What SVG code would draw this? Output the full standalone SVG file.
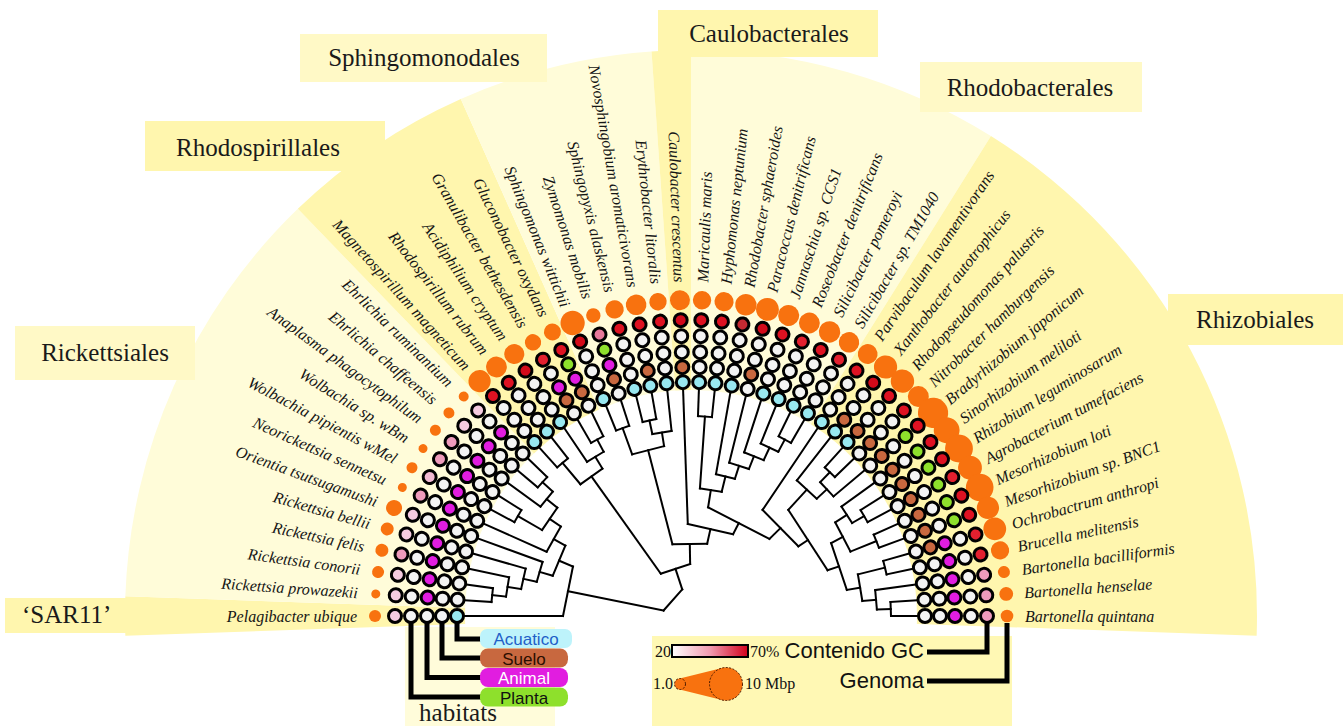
<svg xmlns="http://www.w3.org/2000/svg" width="1344" height="726" viewBox="0 0 1344 726">
<style>
.lf{font-family:"Liberation Serif",serif;font-style:italic;font-size:16px;fill:#151515}
.cl{font-family:"Liberation Serif",serif;font-size:25px;fill:#1a1a1a}
.ls{font-family:"Liberation Sans",Arial,sans-serif;font-size:17px;text-anchor:middle}
.lg2{font-family:"Liberation Sans",Arial,sans-serif;font-size:22px;fill:#111;text-anchor:end}
.sm{font-family:"Liberation Serif",serif;font-size:16px;fill:#111}
.t line{stroke:#000;stroke-width:2;stroke-linecap:square}
.c{stroke:#000;stroke-width:3}
.gn{fill:#F8720F}
.W{fill:#F3F3F3}.P{fill:#8EE02C}.A{fill:#E11DE0}.S{fill:#C8683F}.Q{fill:#98E8F0}
.p1{fill:#F5CBE0}.p2{fill:#F1B9D3}.p3{fill:#EE9BBC}.p4{fill:#E7789A}
.r1{fill:#E3202F}.r2{fill:#DE1222}.r3{fill:#D20A1A}.r4{fill:#C42A32}
.dk{fill:#FFF6AE}.lt{fill:#FFFCD9}.lb{fill:#FFF9C6}
.lk{fill:none;stroke:#000;stroke-width:5}
</style>
<defs>
<linearGradient id="gcg" x1="0" y1="0" x2="1" y2="0">
<stop offset="0" stop-color="#FFFFFF"/><stop offset="0.5" stop-color="#F09AB0"/><stop offset="1" stop-color="#D2001A"/>
</linearGradient>
</defs>
<rect width="1344" height="726" fill="#FFFFFF"/>
<g id="sectors">
<path class="dk" d="M125.35,635.75A566,566 0 0 1 125.35,596.25L465.14,608.11A226,226 0 0 0 465.14,623.89Z"/>
<path class="lt" d="M125.35,596.25A566,566 0 0 1 297.82,208.85L534.01,453.43A226,226 0 0 0 465.14,608.11Z"/>
<path class="dk" d="M297.82,208.85A566,566 0 0 1 460.79,98.93L599.08,409.54A226,226 0 0 0 534.01,453.43Z"/>
<path class="lt" d="M460.79,98.93A566,566 0 0 1 651.52,51.38L675.24,390.55A226,226 0 0 0 599.08,409.54Z"/>
<path class="dk" d="M651.52,51.38A566,566 0 0 1 691,50L691,390A226,226 0 0 0 675.24,390.55Z"/>
<path class="lt" d="M691,50A566,566 0 0 1 990.93,136L810.76,424.34A226,226 0 0 0 691,390Z"/>
<path class="dk" d="M990.93,136A566,566 0 0 1 1256.65,635.75L916.86,623.89A226,226 0 0 0 810.76,424.34Z"/>
</g>
<g id="clade-labels">
<g id="clade-sar11"><rect class="dk" x="5" y="598" width="150" height="35"/><text class="cl" x="22" y="623" font-size="24">‘SAR11’</text></g>
<g id="clade-rickettsiales"><rect class="lb" x="15" y="326" width="180" height="54"/><text class="cl" x="105" y="361" text-anchor="middle">Rickettsiales</text></g>
<g id="clade-rhodospirillales"><rect class="dk" x="145" y="121" width="240" height="50"/><text class="cl" x="258" y="156" text-anchor="middle">Rhodospirillales</text></g>
<g id="clade-sphingomonadales"><rect class="lb" x="300" y="34" width="247" height="48"/><text class="cl" x="424" y="66" text-anchor="middle">Sphingomonodales</text></g>
<g id="clade-caulobacterales"><rect class="dk" x="658" y="10" width="220" height="47"/><text class="cl" x="769" y="42" text-anchor="middle">Caulobacterales</text></g>
<g id="clade-rhodobacterales"><rect class="lb" x="920" y="62" width="222" height="50"/><text class="cl" x="1030" y="96" text-anchor="middle">Rhodobacterales</text></g>
<g id="clade-rhizobiales"><rect class="dk" x="1168" y="294" width="175" height="51"/><text class="cl" x="1255" y="328" text-anchor="middle">Rhizobiales</text></g>
</g>
<rect id="legend-habitats-bg" x="405" y="627" width="150" height="99" fill="#FFFCDA"/>
<rect id="legend-bg" x="652" y="636" width="360" height="90" fill="#FFF8B4"/>
<g id="connectors" class="t">
<line x1="563" y1="616" x2="465" y2="616"/>
<line x1="491" y1="616" x2="465" y2="616" transform="rotate(4 691 616)"/>
<line x1="491" y1="616" x2="465" y2="616" transform="rotate(8 691 616)"/>
<line x1="505" y1="616" x2="465" y2="616" transform="rotate(12 691 616)"/>
<line x1="519" y1="616" x2="465" y2="616" transform="rotate(16 691 616)"/>
<line x1="533" y1="616" x2="465" y2="616" transform="rotate(20 691 616)"/>
<line x1="533" y1="616" x2="465" y2="616" transform="rotate(24 691 616)"/>
<line x1="491" y1="616" x2="465" y2="616" transform="rotate(28 691 616)"/>
<line x1="491" y1="616" x2="465" y2="616" transform="rotate(32 691 616)"/>
<line x1="505" y1="616" x2="465" y2="616" transform="rotate(36 691 616)"/>
<line x1="491" y1="616" x2="465" y2="616" transform="rotate(40 691 616)"/>
<line x1="491" y1="616" x2="465" y2="616" transform="rotate(44 691 616)"/>
<line x1="491" y1="616" x2="465" y2="616" transform="rotate(48 691 616)"/>
<line x1="491" y1="616" x2="465" y2="616" transform="rotate(52 691 616)"/>
<line x1="505" y1="616" x2="465" y2="616" transform="rotate(56 691 616)"/>
<line x1="491" y1="616" x2="465" y2="616" transform="rotate(60 691 616)"/>
<line x1="491" y1="616" x2="465" y2="616" transform="rotate(64 691 616)"/>
<line x1="491" y1="616" x2="465" y2="616" transform="rotate(68 691 616)"/>
<line x1="491" y1="616" x2="465" y2="616" transform="rotate(72 691 616)"/>
<line x1="491" y1="616" x2="465" y2="616" transform="rotate(76 691 616)"/>
<line x1="491" y1="616" x2="465" y2="616" transform="rotate(80 691 616)"/>
<line x1="505" y1="616" x2="465" y2="616" transform="rotate(84 691 616)"/>
<line x1="599" y1="616" x2="465" y2="616" transform="rotate(88 691 616)"/>
<line x1="491" y1="616" x2="465" y2="616" transform="rotate(92 691 616)"/>
<line x1="491" y1="616" x2="465" y2="616" transform="rotate(96 691 616)"/>
<line x1="547" y1="616" x2="465" y2="616" transform="rotate(100 691 616)"/>
<line x1="533" y1="616" x2="465" y2="616" transform="rotate(104 691 616)"/>
<line x1="519" y1="616" x2="465" y2="616" transform="rotate(108 691 616)"/>
<line x1="505" y1="616" x2="465" y2="616" transform="rotate(112 691 616)"/>
<line x1="491" y1="616" x2="465" y2="616" transform="rotate(116 691 616)"/>
<line x1="491" y1="616" x2="465" y2="616" transform="rotate(120 691 616)"/>
<line x1="563" y1="616" x2="465" y2="616" transform="rotate(124 691 616)"/>
<line x1="519" y1="616" x2="465" y2="616" transform="rotate(128 691 616)"/>
<line x1="491" y1="616" x2="465" y2="616" transform="rotate(132 691 616)"/>
<line x1="491" y1="616" x2="465" y2="616" transform="rotate(136 691 616)"/>
<line x1="505" y1="616" x2="465" y2="616" transform="rotate(140 691 616)"/>
<line x1="505" y1="616" x2="465" y2="616" transform="rotate(144 691 616)"/>
<line x1="491" y1="616" x2="465" y2="616" transform="rotate(148 691 616)"/>
<line x1="491" y1="616" x2="465" y2="616" transform="rotate(152 691 616)"/>
<line x1="491" y1="616" x2="465" y2="616" transform="rotate(156 691 616)"/>
<line x1="491" y1="616" x2="465" y2="616" transform="rotate(160 691 616)"/>
<line x1="491" y1="616" x2="465" y2="616" transform="rotate(164 691 616)"/>
<line x1="491" y1="616" x2="465" y2="616" transform="rotate(168 691 616)"/>
<line x1="505" y1="616" x2="465" y2="616" transform="rotate(172 691 616)"/>
<line x1="491" y1="616" x2="465" y2="616" transform="rotate(176 691 616)"/>
<line x1="491" y1="616" x2="465" y2="616" transform="rotate(180 691 616)"/>
<line x1="505" y1="616" x2="491.12" y2="616" transform="rotate(6 691 616)"/>
<line x1="519" y1="616" x2="505.25" y2="616" transform="rotate(9 691 616)"/>
<line x1="533" y1="616" x2="519.32" y2="616" transform="rotate(12.5 691 616)"/>
<line x1="547" y1="616" x2="533.34" y2="616" transform="rotate(16.25 691 616)"/>
<line x1="519" y1="616" x2="491.12" y2="616" transform="rotate(30 691 616)"/>
<line x1="505" y1="616" x2="491.12" y2="616" transform="rotate(42 691 616)"/>
<line x1="519" y1="616" x2="505.25" y2="616" transform="rotate(39 691 616)"/>
<line x1="533" y1="616" x2="519.53" y2="616" transform="rotate(34.5 691 616)"/>
<line x1="547" y1="616" x2="533.66" y2="616" transform="rotate(29.25 691 616)"/>
<line x1="563" y1="616" x2="547.93" y2="616" transform="rotate(22.75 691 616)"/>
<line x1="663" y1="616" x2="565.51" y2="616" transform="rotate(11.375 691 616)"/>
<line x1="519" y1="616" x2="491.12" y2="616" transform="rotate(50 691 616)"/>
<line x1="505" y1="616" x2="491.12" y2="616" transform="rotate(62 691 616)"/>
<line x1="519" y1="616" x2="505.25" y2="616" transform="rotate(59 691 616)"/>
<line x1="639" y1="616" x2="519.53" y2="616" transform="rotate(54.5 691 616)"/>
<line x1="519" y1="616" x2="491.12" y2="616" transform="rotate(70 691 616)"/>
<line x1="505" y1="616" x2="491.12" y2="616" transform="rotate(78 691 616)"/>
<line x1="519" y1="616" x2="505.25" y2="616" transform="rotate(81 691 616)"/>
<line x1="617" y1="616" x2="519.79" y2="616" transform="rotate(75.5 691 616)"/>
<line x1="563" y1="616" x2="491.12" y2="616" transform="rotate(94 691 616)"/>
<line x1="505" y1="616" x2="491.12" y2="616" transform="rotate(118 691 616)"/>
<line x1="519" y1="616" x2="505.25" y2="616" transform="rotate(115 691 616)"/>
<line x1="533" y1="616" x2="519.32" y2="616" transform="rotate(111.5 691 616)"/>
<line x1="547" y1="616" x2="533.34" y2="616" transform="rotate(107.75 691 616)"/>
<line x1="563" y1="616" x2="547.33" y2="616" transform="rotate(103.875 691 616)"/>
<line x1="581" y1="616" x2="563.48" y2="616" transform="rotate(98.94 691 616)"/>
<line x1="505" y1="616" x2="491.12" y2="616" transform="rotate(178 691 616)"/>
<line x1="519" y1="616" x2="505.25" y2="616" transform="rotate(175 691 616)"/>
<line x1="519" y1="616" x2="491.12" y2="616" transform="rotate(166 691 616)"/>
<line x1="533" y1="616" x2="519.53" y2="616" transform="rotate(170.5 691 616)"/>
<line x1="505" y1="616" x2="491.12" y2="616" transform="rotate(150 691 616)"/>
<line x1="519" y1="616" x2="505.25" y2="616" transform="rotate(147 691 616)"/>
<line x1="519" y1="616" x2="491.12" y2="616" transform="rotate(158 691 616)"/>
<line x1="533" y1="616" x2="519.79" y2="616" transform="rotate(152.5 691 616)"/>
<line x1="547" y1="616" x2="534.95" y2="616" transform="rotate(161.5 691 616)"/>
<line x1="505" y1="616" x2="491.12" y2="616" transform="rotate(134 691 616)"/>
<line x1="519" y1="616" x2="505.25" y2="616" transform="rotate(137 691 616)"/>
<line x1="547" y1="616" x2="519.53" y2="616" transform="rotate(132.5 691 616)"/>
<line x1="563" y1="616" x2="551.59" y2="616" transform="rotate(147 691 616)"/>
<line x1="581" y1="616" x2="565.57" y2="616" transform="rotate(135.5 691 616)"/>
<line x1="599" y1="616" x2="586.55" y2="616" transform="rotate(117.22 691 616)"/>
<line x1="617" y1="616" x2="601.97" y2="616" transform="rotate(102.61 691 616)"/>
<line x1="639" y1="616" x2="619.06" y2="616" transform="rotate(89.05 691 616)"/>
<line x1="663" y1="616" x2="641.35" y2="616" transform="rotate(71.78 691 616)"/>
<line x1="491.12" y1="609.02" x2="491.12" y2="622.98" transform="rotate(6 691 616)"/>
<line x1="505.25" y1="606.26" x2="505.25" y2="625.74" transform="rotate(9 691 616)"/>
<line x1="519.32" y1="605.5" x2="519.32" y2="626.5" transform="rotate(12.5 691 616)"/>
<line x1="533.34" y1="605.67" x2="533.34" y2="626.33" transform="rotate(16.25 691 616)"/>
<line x1="491.12" y1="609.02" x2="491.12" y2="622.98" transform="rotate(30 691 616)"/>
<line x1="491.12" y1="609.02" x2="491.12" y2="622.98" transform="rotate(42 691 616)"/>
<line x1="505.25" y1="606.26" x2="505.25" y2="625.74" transform="rotate(39 691 616)"/>
<line x1="519.53" y1="602.51" x2="519.53" y2="629.49" transform="rotate(34.5 691 616)"/>
<line x1="533.66" y1="601.54" x2="533.66" y2="630.46" transform="rotate(29.25 691 616)"/>
<line x1="547.93" y1="599.7" x2="547.93" y2="632.3" transform="rotate(22.75 691 616)"/>
<line x1="565.51" y1="590.75" x2="565.51" y2="641.25" transform="rotate(11.375 691 616)"/>
<line x1="491.12" y1="609.02" x2="491.12" y2="622.98" transform="rotate(50 691 616)"/>
<line x1="491.12" y1="609.02" x2="491.12" y2="622.98" transform="rotate(62 691 616)"/>
<line x1="505.25" y1="606.26" x2="505.25" y2="625.74" transform="rotate(59 691 616)"/>
<line x1="519.53" y1="602.51" x2="519.53" y2="629.49" transform="rotate(54.5 691 616)"/>
<line x1="491.12" y1="609.02" x2="491.12" y2="622.98" transform="rotate(70 691 616)"/>
<line x1="491.12" y1="609.02" x2="491.12" y2="622.98" transform="rotate(78 691 616)"/>
<line x1="505.25" y1="606.26" x2="505.25" y2="625.74" transform="rotate(81 691 616)"/>
<line x1="519.79" y1="599.51" x2="519.79" y2="632.49" transform="rotate(75.5 691 616)"/>
<line x1="491.12" y1="609.02" x2="491.12" y2="622.98" transform="rotate(94 691 616)"/>
<line x1="491.12" y1="609.02" x2="491.12" y2="622.98" transform="rotate(118 691 616)"/>
<line x1="505.25" y1="606.26" x2="505.25" y2="625.74" transform="rotate(115 691 616)"/>
<line x1="519.32" y1="605.5" x2="519.32" y2="626.5" transform="rotate(111.5 691 616)"/>
<line x1="533.34" y1="605.67" x2="533.34" y2="626.33" transform="rotate(107.75 691 616)"/>
<line x1="547.33" y1="606.27" x2="547.33" y2="625.73" transform="rotate(103.875 691 616)"/>
<line x1="563.48" y1="604.98" x2="563.48" y2="627.02" transform="rotate(98.94 691 616)"/>
<line x1="491.12" y1="609.02" x2="491.12" y2="622.98" transform="rotate(178 691 616)"/>
<line x1="505.25" y1="606.26" x2="505.25" y2="625.74" transform="rotate(175 691 616)"/>
<line x1="491.12" y1="609.02" x2="491.12" y2="622.98" transform="rotate(166 691 616)"/>
<line x1="519.53" y1="602.51" x2="519.53" y2="629.49" transform="rotate(170.5 691 616)"/>
<line x1="491.12" y1="609.02" x2="491.12" y2="622.98" transform="rotate(150 691 616)"/>
<line x1="505.25" y1="606.26" x2="505.25" y2="625.74" transform="rotate(147 691 616)"/>
<line x1="491.12" y1="609.02" x2="491.12" y2="622.98" transform="rotate(158 691 616)"/>
<line x1="519.79" y1="599.51" x2="519.79" y2="632.49" transform="rotate(152.5 691 616)"/>
<line x1="534.95" y1="591.28" x2="534.95" y2="640.72" transform="rotate(161.5 691 616)"/>
<line x1="491.12" y1="609.02" x2="491.12" y2="622.98" transform="rotate(134 691 616)"/>
<line x1="505.25" y1="606.26" x2="505.25" y2="625.74" transform="rotate(137 691 616)"/>
<line x1="519.53" y1="602.51" x2="519.53" y2="629.49" transform="rotate(132.5 691 616)"/>
<line x1="551.59" y1="579.95" x2="551.59" y2="652.05" transform="rotate(147 691 616)"/>
<line x1="565.57" y1="590.48" x2="565.57" y2="641.52" transform="rotate(135.5 691 616)"/>
<line x1="586.55" y1="581.5" x2="586.55" y2="650.5" transform="rotate(117.22 691 616)"/>
<line x1="601.97" y1="592.8" x2="601.97" y2="639.2" transform="rotate(102.61 691 616)"/>
<line x1="619.06" y1="598.66" x2="619.06" y2="633.34" transform="rotate(89.05 691 616)"/>
<line x1="641.35" y1="600.56" x2="641.35" y2="631.44" transform="rotate(71.78 691 616)"/>
<line x1="666.8" y1="601.92" x2="666.8" y2="630.08" transform="rotate(41.58 691 616)"/>
</g>
<g id="leaves">
<g id="leaf-01" transform="rotate(0 691 616)"><circle class="gn" cx="375" cy="616" r="6"/><circle class="c p1" cx="395" cy="616" r="6.5"/><circle class="c W" cx="411" cy="616" r="6.5"/><circle class="c W" cx="427" cy="616" r="6.5"/><circle class="c W" cx="442" cy="616" r="6.5"/><circle class="c Q" cx="457" cy="616" r="6.5"/><text class="lf" x="357" y="621.5" text-anchor="end">Pelagibacter ubique</text></g>
<g id="leaf-02" transform="rotate(4 691 616)"><circle class="gn" cx="375" cy="616" r="4.5"/><circle class="c p1" cx="395" cy="616" r="6.5"/><circle class="c W" cx="411" cy="616" r="6.5"/><circle class="c A" cx="427" cy="616" r="6.5"/><circle class="c W" cx="442" cy="616" r="6.5"/><circle class="c W" cx="457" cy="616" r="6.5"/><text class="lf" x="357" y="621.5" text-anchor="end">Rickettsia prowazekii</text></g>
<g id="leaf-03" transform="rotate(8 691 616)"><circle class="gn" cx="375" cy="616" r="6"/><circle class="c p1" cx="395" cy="616" r="6.5"/><circle class="c W" cx="411" cy="616" r="6.5"/><circle class="c A" cx="427" cy="616" r="6.5"/><circle class="c W" cx="442" cy="616" r="6.5"/><circle class="c W" cx="457" cy="616" r="6.5"/><text class="lf" x="357" y="621.5" text-anchor="end">Rickettsia conorii</text></g>
<g id="leaf-04" transform="rotate(12 691 616)"><circle class="gn" cx="375" cy="616" r="6.5"/><circle class="c p3" cx="395" cy="616" r="6.5"/><circle class="c W" cx="411" cy="616" r="6.5"/><circle class="c A" cx="427" cy="616" r="6.5"/><circle class="c W" cx="442" cy="616" r="6.5"/><circle class="c W" cx="457" cy="616" r="6.5"/><text class="lf" x="357" y="621.5" text-anchor="end">Rickettsia felis</text></g>
<g id="leaf-05" transform="rotate(16 691 616)"><circle class="gn" cx="375" cy="616" r="6.5"/><circle class="c p1" cx="395" cy="616" r="6.5"/><circle class="c W" cx="411" cy="616" r="6.5"/><circle class="c A" cx="427" cy="616" r="6.5"/><circle class="c W" cx="442" cy="616" r="6.5"/><circle class="c W" cx="457" cy="616" r="6.5"/><text class="lf" x="357" y="621.5" text-anchor="end">Rickettsia bellii</text></g>
<g id="leaf-06" transform="rotate(20 691 616)"><circle class="gn" cx="375" cy="616" r="8"/><circle class="c p1" cx="395" cy="616" r="6.5"/><circle class="c W" cx="411" cy="616" r="6.5"/><circle class="c A" cx="427" cy="616" r="6.5"/><circle class="c W" cx="442" cy="616" r="6.5"/><circle class="c W" cx="457" cy="616" r="6.5"/><text class="lf" x="357" y="621.5" text-anchor="end">Orientia tsutsugamushi</text></g>
<g id="leaf-07" transform="rotate(24 691 616)"><circle class="gn" cx="375" cy="616" r="4.5"/><circle class="c p3" cx="395" cy="616" r="6.5"/><circle class="c W" cx="411" cy="616" r="6.5"/><circle class="c A" cx="427" cy="616" r="6.5"/><circle class="c W" cx="442" cy="616" r="6.5"/><circle class="c W" cx="457" cy="616" r="6.5"/><text class="lf" x="357" y="621.5" text-anchor="end">Neorickettsia sennetsu</text></g>
<g id="leaf-08" transform="rotate(28 691 616)"><circle class="gn" cx="375" cy="616" r="5.5"/><circle class="c p2" cx="395" cy="616" r="6.5"/><circle class="c W" cx="411" cy="616" r="6.5"/><circle class="c A" cx="427" cy="616" r="6.5"/><circle class="c W" cx="442" cy="616" r="6.5"/><circle class="c W" cx="457" cy="616" r="6.5"/><text class="lf" x="357" y="621.5" text-anchor="end">Wolbachia pipientis wMel</text></g>
<g id="leaf-09" transform="rotate(32 691 616)"><circle class="gn" cx="375" cy="616" r="4.5"/><circle class="c p3" cx="395" cy="616" r="6.5"/><circle class="c W" cx="411" cy="616" r="6.5"/><circle class="c A" cx="427" cy="616" r="6.5"/><circle class="c W" cx="442" cy="616" r="6.5"/><circle class="c W" cx="457" cy="616" r="6.5"/><text class="lf" x="357" y="621.5" text-anchor="end">Wolbachia sp. wBm</text></g>
<g id="leaf-10" transform="rotate(36 691 616)"><circle class="gn" cx="375" cy="616" r="5.5"/><circle class="c p3" cx="395" cy="616" r="6.5"/><circle class="c W" cx="411" cy="616" r="6.5"/><circle class="c A" cx="427" cy="616" r="6.5"/><circle class="c W" cx="442" cy="616" r="6.5"/><circle class="c W" cx="457" cy="616" r="6.5"/><text class="lf" x="357" y="621.5" text-anchor="end">Anaplasma phagocytophilum</text></g>
<g id="leaf-11" transform="rotate(40 691 616)"><circle class="gn" cx="375" cy="616" r="5.5"/><circle class="c p1" cx="395" cy="616" r="6.5"/><circle class="c W" cx="411" cy="616" r="6.5"/><circle class="c A" cx="427" cy="616" r="6.5"/><circle class="c W" cx="442" cy="616" r="6.5"/><circle class="c W" cx="457" cy="616" r="6.5"/><text class="lf" x="357" y="621.5" text-anchor="end">Ehrlichia chaffeensis</text></g>
<g id="leaf-12" transform="rotate(44 691 616)"><circle class="gn" cx="375" cy="616" r="5"/><circle class="c p1" cx="395" cy="616" r="6.5"/><circle class="c W" cx="411" cy="616" r="6.5"/><circle class="c A" cx="427" cy="616" r="6.5"/><circle class="c W" cx="442" cy="616" r="6.5"/><circle class="c W" cx="457" cy="616" r="6.5"/><text class="lf" x="357" y="621.5" text-anchor="end">Ehrlichia ruminantium</text></g>
<g id="leaf-13" transform="rotate(48 691 616)"><circle class="gn" cx="375" cy="616" r="11.1"/><circle class="c r2" cx="395" cy="616" r="6.5"/><circle class="c W" cx="411" cy="616" r="6.5"/><circle class="c W" cx="427" cy="616" r="6.5"/><circle class="c W" cx="442" cy="616" r="6.5"/><circle class="c Q" cx="457" cy="616" r="6.5"/><text class="lf" x="357" y="621.5" text-anchor="end">Magnetospirillum magneticum</text></g>
<g id="leaf-14" transform="rotate(52 691 616)"><circle class="gn" cx="375" cy="616" r="10.4"/><circle class="c r2" cx="395" cy="616" r="6.5"/><circle class="c W" cx="411" cy="616" r="6.5"/><circle class="c W" cx="427" cy="616" r="6.5"/><circle class="c W" cx="442" cy="616" r="6.5"/><circle class="c Q" cx="457" cy="616" r="6.5"/><text class="lf" x="357" y="621.5" text-anchor="end">Rhodospirillum rubrum</text></g>
<g id="leaf-15" transform="rotate(56 691 616)"><circle class="gn" cx="375" cy="616" r="10"/><circle class="c r3" cx="395" cy="616" r="6.5"/><circle class="c W" cx="411" cy="616" r="6.5"/><circle class="c W" cx="427" cy="616" r="6.5"/><circle class="c W" cx="442" cy="616" r="6.5"/><circle class="c Q" cx="457" cy="616" r="6.5"/><text class="lf" x="357" y="621.5" text-anchor="end">Acidiphilium cryptum</text></g>
<g id="leaf-16" transform="rotate(60 691 616)"><circle class="gn" cx="375" cy="616" r="8.2"/><circle class="c r1" cx="395" cy="616" r="6.5"/><circle class="c W" cx="411" cy="616" r="6.5"/><circle class="c A" cx="427" cy="616" r="6.5"/><circle class="c S" cx="442" cy="616" r="6.5"/><circle class="c W" cx="457" cy="616" r="6.5"/><text class="lf" x="357" y="621.5" text-anchor="end">Granulibacter bethesdensis</text></g>
<g id="leaf-17" transform="rotate(64 691 616)"><circle class="gn" cx="375" cy="616" r="8.5"/><circle class="c r2" cx="395" cy="616" r="6.5"/><circle class="c P" cx="411" cy="616" r="6.5"/><circle class="c A" cx="427" cy="616" r="6.5"/><circle class="c S" cx="442" cy="616" r="6.5"/><circle class="c W" cx="457" cy="616" r="6.5"/><text class="lf" x="357" y="621.5" text-anchor="end">Gluconobacter oxydans</text></g>
<g id="leaf-18" transform="rotate(68 691 616)"><circle class="gn" cx="375" cy="616" r="12.1"/><circle class="c r3" cx="395" cy="616" r="6.5"/><circle class="c W" cx="411" cy="616" r="6.5"/><circle class="c W" cx="427" cy="616" r="6.5"/><circle class="c W" cx="442" cy="616" r="6.5"/><circle class="c Q" cx="457" cy="616" r="6.5"/><text class="lf" x="357" y="621.5" text-anchor="end">Sphingomonas wittichii</text></g>
<g id="leaf-19" transform="rotate(72 691 616)"><circle class="gn" cx="375" cy="616" r="7.2"/><circle class="c p4" cx="395" cy="616" r="6.5"/><circle class="c P" cx="411" cy="616" r="6.5"/><circle class="c A" cx="427" cy="616" r="6.5"/><circle class="c S" cx="442" cy="616" r="6.5"/><circle class="c W" cx="457" cy="616" r="6.5"/><text class="lf" x="357" y="621.5" text-anchor="end">Zymomonas mobilis</text></g>
<g id="leaf-20" transform="rotate(76 691 616)"><circle class="gn" cx="375" cy="616" r="9.2"/><circle class="c r2" cx="395" cy="616" r="6.5"/><circle class="c W" cx="411" cy="616" r="6.5"/><circle class="c W" cx="427" cy="616" r="6.5"/><circle class="c W" cx="442" cy="616" r="6.5"/><circle class="c Q" cx="457" cy="616" r="6.5"/><text class="lf" x="357" y="621.5" text-anchor="end">Sphingopyxis alaskensis</text></g>
<g id="leaf-21" transform="rotate(80 691 616)"><circle class="gn" cx="375" cy="616" r="10.3"/><circle class="c r2" cx="395" cy="616" r="6.5"/><circle class="c W" cx="411" cy="616" r="6.5"/><circle class="c W" cx="427" cy="616" r="6.5"/><circle class="c S" cx="442" cy="616" r="6.5"/><circle class="c Q" cx="457" cy="616" r="6.5"/><text class="lf" x="357" y="621.5" text-anchor="end">Novosphingobium aromaticivorans</text></g>
<g id="leaf-22" transform="rotate(84 691 616)"><circle class="gn" cx="375" cy="616" r="8.7"/><circle class="c r2" cx="395" cy="616" r="6.5"/><circle class="c W" cx="411" cy="616" r="6.5"/><circle class="c W" cx="427" cy="616" r="6.5"/><circle class="c W" cx="442" cy="616" r="6.5"/><circle class="c Q" cx="457" cy="616" r="6.5"/><text class="lf" x="357" y="621.5" text-anchor="end">Erythrobacter litoralis</text></g>
<g id="leaf-23" transform="rotate(88 691 616)"><circle class="gn" cx="375" cy="616" r="10"/><circle class="c r3" cx="395" cy="616" r="6.5"/><circle class="c W" cx="411" cy="616" r="6.5"/><circle class="c W" cx="427" cy="616" r="6.5"/><circle class="c S" cx="442" cy="616" r="6.5"/><circle class="c Q" cx="457" cy="616" r="6.5"/><text class="lf" x="357" y="621.5" text-anchor="end">Caulobacter crescentus</text></g>
<g id="leaf-24" transform="rotate(-88 691 616)"><circle class="gn" cx="1007" cy="616" r="9.2"/><circle class="c r2" cx="987" cy="616" r="6.5"/><circle class="c W" cx="971" cy="616" r="6.5"/><circle class="c W" cx="955" cy="616" r="6.5"/><circle class="c W" cx="940" cy="616" r="6.5"/><circle class="c Q" cx="925" cy="616" r="6.5"/><text class="lf" x="1025" y="621.5">Maricaulis maris</text></g>
<g id="leaf-25" transform="rotate(-84 691 616)"><circle class="gn" cx="1007" cy="616" r="9.6"/><circle class="c r2" cx="987" cy="616" r="6.5"/><circle class="c W" cx="971" cy="616" r="6.5"/><circle class="c W" cx="955" cy="616" r="6.5"/><circle class="c W" cx="940" cy="616" r="6.5"/><circle class="c Q" cx="925" cy="616" r="6.5"/><text class="lf" x="1025" y="621.5">Hyphomonas neptunium</text></g>
<g id="leaf-26" transform="rotate(-80 691 616)"><circle class="gn" cx="1007" cy="616" r="10.7"/><circle class="c r4" cx="987" cy="616" r="6.5"/><circle class="c W" cx="971" cy="616" r="6.5"/><circle class="c W" cx="955" cy="616" r="6.5"/><circle class="c W" cx="940" cy="616" r="6.5"/><circle class="c Q" cx="925" cy="616" r="6.5"/><text class="lf" x="1025" y="621.5">Rhodobacter sphaeroides</text></g>
<g id="leaf-27" transform="rotate(-76 691 616)"><circle class="gn" cx="1007" cy="616" r="11.4"/><circle class="c r3" cx="987" cy="616" r="6.5"/><circle class="c W" cx="971" cy="616" r="6.5"/><circle class="c W" cx="955" cy="616" r="6.5"/><circle class="c S" cx="940" cy="616" r="6.5"/><circle class="c W" cx="925" cy="616" r="6.5"/><text class="lf" x="1025" y="621.5">Paracoccus denitrificans</text></g>
<g id="leaf-28" transform="rotate(-72 691 616)"><circle class="gn" cx="1007" cy="616" r="10.5"/><circle class="c r2" cx="987" cy="616" r="6.5"/><circle class="c W" cx="971" cy="616" r="6.5"/><circle class="c W" cx="955" cy="616" r="6.5"/><circle class="c W" cx="940" cy="616" r="6.5"/><circle class="c Q" cx="925" cy="616" r="6.5"/><text class="lf" x="1025" y="621.5">Jannaschia sp. CCS1</text></g>
<g id="leaf-29" transform="rotate(-68 691 616)"><circle class="gn" cx="1007" cy="616" r="10.4"/><circle class="c r1" cx="987" cy="616" r="6.5"/><circle class="c W" cx="971" cy="616" r="6.5"/><circle class="c W" cx="955" cy="616" r="6.5"/><circle class="c W" cx="940" cy="616" r="6.5"/><circle class="c Q" cx="925" cy="616" r="6.5"/><text class="lf" x="1025" y="621.5">Roseobacter denitrificans</text></g>
<g id="leaf-30" transform="rotate(-64 691 616)"><circle class="gn" cx="1007" cy="616" r="10.7"/><circle class="c r2" cx="987" cy="616" r="6.5"/><circle class="c W" cx="971" cy="616" r="6.5"/><circle class="c W" cx="955" cy="616" r="6.5"/><circle class="c W" cx="940" cy="616" r="6.5"/><circle class="c Q" cx="925" cy="616" r="6.5"/><text class="lf" x="1025" y="621.5">Silicibacter pomeroyi</text></g>
<g id="leaf-31" transform="rotate(-60 691 616)"><circle class="gn" cx="1007" cy="616" r="10.2"/><circle class="c r1" cx="987" cy="616" r="6.5"/><circle class="c W" cx="971" cy="616" r="6.5"/><circle class="c W" cx="955" cy="616" r="6.5"/><circle class="c W" cx="940" cy="616" r="6.5"/><circle class="c Q" cx="925" cy="616" r="6.5"/><text class="lf" x="1025" y="621.5">Silicibacter sp. TM1040</text></g>
<g id="leaf-32" transform="rotate(-56 691 616)"><circle class="gn" cx="1007" cy="616" r="9.9"/><circle class="c r2" cx="987" cy="616" r="6.5"/><circle class="c W" cx="971" cy="616" r="6.5"/><circle class="c W" cx="955" cy="616" r="6.5"/><circle class="c W" cx="940" cy="616" r="6.5"/><circle class="c Q" cx="925" cy="616" r="6.5"/><text class="lf" x="1025" y="621.5">Parvibaculum lavamentivorans</text></g>
<g id="leaf-33" transform="rotate(-52 691 616)"><circle class="gn" cx="1007" cy="616" r="11.6"/><circle class="c r3" cx="987" cy="616" r="6.5"/><circle class="c W" cx="971" cy="616" r="6.5"/><circle class="c W" cx="955" cy="616" r="6.5"/><circle class="c S" cx="940" cy="616" r="6.5"/><circle class="c Q" cx="925" cy="616" r="6.5"/><text class="lf" x="1025" y="621.5">Xanthobacter autotrophicus</text></g>
<g id="leaf-34" transform="rotate(-48 691 616)"><circle class="gn" cx="1007" cy="616" r="11.7"/><circle class="c r2" cx="987" cy="616" r="6.5"/><circle class="c W" cx="971" cy="616" r="6.5"/><circle class="c W" cx="955" cy="616" r="6.5"/><circle class="c S" cx="940" cy="616" r="6.5"/><circle class="c Q" cx="925" cy="616" r="6.5"/><text class="lf" x="1025" y="621.5">Rhodopseudomonas palustris</text></g>
<g id="leaf-35" transform="rotate(-44 691 616)"><circle class="gn" cx="1007" cy="616" r="10.5"/><circle class="c r2" cx="987" cy="616" r="6.5"/><circle class="c W" cx="971" cy="616" r="6.5"/><circle class="c W" cx="955" cy="616" r="6.5"/><circle class="c S" cx="940" cy="616" r="6.5"/><circle class="c W" cx="925" cy="616" r="6.5"/><text class="lf" x="1025" y="621.5">Nitrobacter hamburgensis</text></g>
<g id="leaf-36" transform="rotate(-40 691 616)"><circle class="gn" cx="1007" cy="616" r="15.1"/><circle class="c r2" cx="987" cy="616" r="6.5"/><circle class="c P" cx="971" cy="616" r="6.5"/><circle class="c W" cx="955" cy="616" r="6.5"/><circle class="c S" cx="940" cy="616" r="6.5"/><circle class="c W" cx="925" cy="616" r="6.5"/><text class="lf" x="1025" y="621.5">Bradyrhizobium japonicum</text></g>
<g id="leaf-37" transform="rotate(-36 691 616)"><circle class="gn" cx="1007" cy="616" r="12.9"/><circle class="c r2" cx="987" cy="616" r="6.5"/><circle class="c P" cx="971" cy="616" r="6.5"/><circle class="c W" cx="955" cy="616" r="6.5"/><circle class="c S" cx="940" cy="616" r="6.5"/><circle class="c W" cx="925" cy="616" r="6.5"/><text class="lf" x="1025" y="621.5">Sinorhizobium meliloti</text></g>
<g id="leaf-38" transform="rotate(-32 691 616)"><circle class="gn" cx="1007" cy="616" r="13.9"/><circle class="c r2" cx="987" cy="616" r="6.5"/><circle class="c P" cx="971" cy="616" r="6.5"/><circle class="c W" cx="955" cy="616" r="6.5"/><circle class="c S" cx="940" cy="616" r="6.5"/><circle class="c W" cx="925" cy="616" r="6.5"/><text class="lf" x="1025" y="621.5">Rhizobium leguminosarum</text></g>
<g id="leaf-39" transform="rotate(-28 691 616)"><circle class="gn" cx="1007" cy="616" r="11.9"/><circle class="c r1" cx="987" cy="616" r="6.5"/><circle class="c P" cx="971" cy="616" r="6.5"/><circle class="c W" cx="955" cy="616" r="6.5"/><circle class="c S" cx="940" cy="616" r="6.5"/><circle class="c W" cx="925" cy="616" r="6.5"/><text class="lf" x="1025" y="621.5">Agrobacterium tumefaciens</text></g>
<g id="leaf-40" transform="rotate(-24 691 616)"><circle class="gn" cx="1007" cy="616" r="13.8"/><circle class="c r2" cx="987" cy="616" r="6.5"/><circle class="c P" cx="971" cy="616" r="6.5"/><circle class="c W" cx="955" cy="616" r="6.5"/><circle class="c S" cx="940" cy="616" r="6.5"/><circle class="c W" cx="925" cy="616" r="6.5"/><text class="lf" x="1025" y="621.5">Mesorhizobium loti</text></g>
<g id="leaf-41" transform="rotate(-20 691 616)"><circle class="gn" cx="1007" cy="616" r="11.1"/><circle class="c r2" cx="987" cy="616" r="6.5"/><circle class="c P" cx="971" cy="616" r="6.5"/><circle class="c W" cx="955" cy="616" r="6.5"/><circle class="c S" cx="940" cy="616" r="6.5"/><circle class="c W" cx="925" cy="616" r="6.5"/><text class="lf" x="1025" y="621.5">Mesorhizobium sp. BNC1</text></g>
<g id="leaf-42" transform="rotate(-16 691 616)"><circle class="gn" cx="1007" cy="616" r="11.4"/><circle class="c r1" cx="987" cy="616" r="6.5"/><circle class="c W" cx="971" cy="616" r="6.5"/><circle class="c A" cx="955" cy="616" r="6.5"/><circle class="c S" cx="940" cy="616" r="6.5"/><circle class="c W" cx="925" cy="616" r="6.5"/><text class="lf" x="1025" y="621.5">Ochrobactrum anthropi</text></g>
<g id="leaf-43" transform="rotate(-12 691 616)"><circle class="gn" cx="1007" cy="616" r="9.1"/><circle class="c r1" cx="987" cy="616" r="6.5"/><circle class="c W" cx="971" cy="616" r="6.5"/><circle class="c A" cx="955" cy="616" r="6.5"/><circle class="c W" cx="940" cy="616" r="6.5"/><circle class="c W" cx="925" cy="616" r="6.5"/><text class="lf" x="1025" y="621.5">Brucella melitensis</text></g>
<g id="leaf-44" transform="rotate(-8 691 616)"><circle class="gn" cx="1007" cy="616" r="6"/><circle class="c p3" cx="987" cy="616" r="6.5"/><circle class="c W" cx="971" cy="616" r="6.5"/><circle class="c A" cx="955" cy="616" r="6.5"/><circle class="c W" cx="940" cy="616" r="6.5"/><circle class="c W" cx="925" cy="616" r="6.5"/><text class="lf" x="1025" y="621.5">Bartonella bacilliformis</text></g>
<g id="leaf-45" transform="rotate(-4 691 616)"><circle class="gn" cx="1007" cy="616" r="6.9"/><circle class="c p3" cx="987" cy="616" r="6.5"/><circle class="c W" cx="971" cy="616" r="6.5"/><circle class="c A" cx="955" cy="616" r="6.5"/><circle class="c W" cx="940" cy="616" r="6.5"/><circle class="c W" cx="925" cy="616" r="6.5"/><text class="lf" x="1025" y="621.5">Bartonella henselae</text></g>
<g id="leaf-46"><circle class="gn" cx="1007" cy="616" r="6.3"/><circle class="c p3" cx="987" cy="616" r="6.5"/><circle class="c W" cx="971" cy="616" r="6.5"/><circle class="c A" cx="955" cy="616" r="6.5"/><circle class="c W" cx="940" cy="616" r="6.5"/><circle class="c W" cx="925" cy="616" r="6.5"/><text class="lf" x="1025" y="621.5">Bartonella quintana</text></g>
</g>
<g id="legend-habitats">
<path class="lk" d="M457,623V639H482"/>
<path class="lk" d="M442,623V658H482"/>
<path class="lk" d="M427,623V677.5H482"/>
<path class="lk" d="M411,623V697H482"/>
<rect x="480" y="629" width="92" height="19" rx="7" fill="#BDF3FB"/>
<text class="ls" x="526" y="645" fill="#1F5FC8">Acuatico</text>
<rect x="480" y="648.5" width="88" height="19" rx="8" fill="#C8683F"/>
<text class="ls" x="524" y="664.5" fill="#2A0E00">Suelo</text>
<rect x="480" y="668" width="88" height="19" rx="8" fill="#E11DE0"/>
<text class="ls" x="524" y="684" fill="#FFFFFF">Animal</text>
<rect x="480" y="687.5" width="88" height="19" rx="8" fill="#8EE02C"/>
<text class="ls" x="524" y="703.5" fill="#111111">Planta</text>
<text class="cl" x="458" y="721" font-size="23" text-anchor="middle">habitats</text>
</g>
<g id="legend-gc-genome">
<path class="lk" d="M987,623V652H927"/>
<path class="lk" d="M1007,623V681H927"/>
<text class="lg2" x="924" y="658">Contenido GC</text>
<text class="lg2" x="924" y="688">Genoma</text>
<rect x="672" y="645" width="76" height="12" fill="url(#gcg)" stroke="#000" stroke-width="2"/>
<text class="sm" x="671" y="657" text-anchor="end">20</text>
<text class="sm" x="750" y="657">70%</text>
<polygon class="gn" points="678.7,678.66 722.06,667.98 722.06,700.02 678.7,689.34"/>
<circle class="gn" cx="680" cy="684" r="5.5" stroke="#4A1A00" stroke-width="1" stroke-dasharray="2 1.5"/>
<circle class="gn" cx="726" cy="684" r="16.5" stroke="#4A1A00" stroke-width="1" stroke-dasharray="2 1.5"/>
<text class="sm" x="673" y="689" text-anchor="end">1.0</text>
<text class="sm" x="745" y="689">10 Mbp</text>
</g>
</svg>
